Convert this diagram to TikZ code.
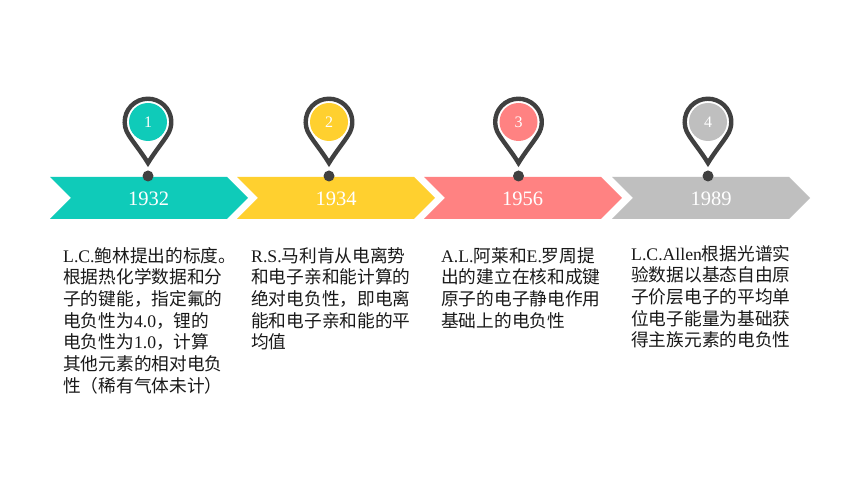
\documentclass[tikz,border=0pt]{standalone}
\usepackage{fontspec}
\setmainfont{Liberation Serif}
\newfontfamily\cjk{Noto Sans CJK SC}
\usetikzlibrary{positioning}
\definecolor{tealbar}{HTML}{0FCBB9}
\definecolor{yellowbar}{HTML}{FFD02F}
\definecolor{redbar}{HTML}{FF8282}
\definecolor{graybar}{HTML}{BFBFBF}
\definecolor{pindark}{HTML}{404040}
\tikzstyle{year} = [text=white, font=\fontsize{20.5}{24}\selectfont, inner sep=0pt]
\tikzstyle{num} = [circle, text=white, minimum size=38pt, inner sep=0pt, font=\fontsize{16}{18}\selectfont]
\tikzstyle{dot} = [circle, fill=pindark, minimum size=11pt, inner sep=0pt]
\tikzstyle{note} = [anchor=north west, align=left, inner sep=0pt, text=black!90, font=\fontsize{17.7}{21.65}\selectfont]
\tikzstyle{pinline} = [draw=pindark, line width=4.4pt, miter limit=10]
\newcommand{\zh}[1]{{\cjk #1}}
\newcommand{\pinmark}[1]{%
  \draw[pinline,shift={(#1,362)}] (0,-41) .. controls (-6,-31) and (-15,-20) .. (-19.1,-13.4)
    arc[start angle=215,end angle=-35,radius=23.3] .. controls (15,-20) and (6,-31) .. cycle;
}
\newcommand{\barshape}[2]{%
  \fill[#2] (#1,307) -- ++(177,0) -- ++(21,-21) -- ++(-21,-21) -- ++(-177,0) -- ++(21,21) -- cycle;
}
\begin{document}
\begin{tikzpicture}[x=1pt,y=1pt]
	\useasboundingbox[fill=white] (0,0) rectangle (860,484);
	% arrows
	\barshape{50}{tealbar}
	\barshape{237}{yellowbar}
	\barshape{424}{redbar}
	\barshape{612}{graybar}
	\node[year] (y1932) at (148.5,285.5) {1932};
	\node[year] (y1934) at (336,285.5) {1934};
	\node[year] (y1956) at (522.5,285.5) {1956};
	\node[year] (y1989) at (711,285.5) {1989};
	% pins
	\pinmark{148}
	\pinmark{329}
	\pinmark{518.5}
	\pinmark{708}
	\node[num,fill=tealbar] (n1) at (148,362) {1};
	\node[num,fill=yellowbar] (n2) at (329,362) {2};
	\node[num,fill=redbar] (n3) at (518.5,362) {3};
	\node[num,fill=graybar] (n4) at (708,362) {4};
	\node[dot] (d1) at (148,308) {};
	\node[dot] (d2) at (329,308) {};
	\node[dot] (d3) at (518.5,308) {};
	\node[dot] (d4) at (708,308) {};
	% texts
	\node[note] (t1) at (63,237) {L.C.\zh{鲍林提出的标度。}\\\zh{根据热化学数据和分}\\\zh{子的键能，指定氟的}\\\zh{电负性为}4.0\zh{，锂的}\\\zh{电负性为}1.0\zh{，计算}\\\zh{其他元素的相对电负}\\\zh{性（稀有气体未计）}};
	\node[note] (t2) at (251,237) {R.S.\zh{马利肯从电离势}\\\zh{和电子亲和能计算的}\\\zh{绝对电负性，即电离}\\\zh{能和电子亲和能的平}\\\zh{均值}};
	\node[note] (t3) at (441,237) {A.L.\zh{阿莱和}E.\zh{罗周提}\\\zh{出的建立在核和成键}\\\zh{原子的电子静电作用}\\\zh{基础上的电负性}};
	\node[note] (t4) at (631,239) {L.C.Allen\zh{根据光谱实}\\\zh{验数据以基态自由原}\\\zh{子价层电子的平均单}\\\zh{位电子能量为基础获}\\\zh{得主族元素的电负性}};
\end{tikzpicture}
\end{document}
